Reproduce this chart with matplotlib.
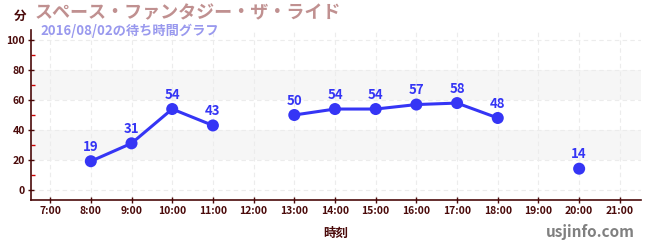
import numpy as np
from matplotlib import pyplot as plt

plt.rcParams['font.family'] = ['Noto Sans CJK JP', 'DejaVu Sans']

# wait times (minutes) per hour, None = no data
hours = [8, 9, 10, 11, 12, 13, 14, 15, 16, 17, 18, 19, 20]
waits = [19, 31, 54, 43, None, 50, 54, 54, 57, 58, 48, None, 14]
tick_hours = list(range(7, 22))
tick_labels = ["%d:00" % h for h in tick_hours]

title = "スペース・ファンタジー・ザ・ライド"
subtitle = "2016/08/02の待ち時間グラフ"

dark = "#4a0a0a"
blue = "#3535f5"

fig = plt.figure(figsize=(6.5, 2.5), dpi=100)
ax = fig.add_axes([31/650, 50/250, 610/650, 170/250])

x = np.array(hours, dtype=float)
y = np.array([np.nan if v is None else v for v in waits], dtype=float)

# shaded bands
for lo, hi in [(20, 40), (60, 80)]:
    ax.axhspan(lo, hi, color="#f6f6f6", zorder=0, lw=0)

ax.plot(x, y, color=blue, lw=2.2, zorder=3)
ax.scatter(x, y, s=75, color=blue, zorder=4, edgecolors="none")
for xi, yi in zip(x, y):
    if not np.isnan(yi):
        ax.text(xi, yi + 5, "%d" % yi, ha="center", va="bottom", color=blue,
                fontsize=9.5, fontweight="bold", zorder=5)

ax.set_xlim(6.53, 21.52)
ax.set_ylim(-7, 107)
ax.set_xticks(tick_hours)
ax.set_xticklabels(tick_labels)
ax.set_yticks([0, 20, 40, 60, 80, 100])
ax.set_yticks([10, 30, 50, 70, 90], minor=True)

ax.grid(True, which="major", color="#ececec", ls=(0, (4, 3)), lw=0.8)
ax.set_axisbelow(True)

for s in ["top", "right"]:
    ax.spines[s].set_visible(False)
for s in ["left", "bottom"]:
    ax.spines[s].set_color(dark)
    ax.spines[s].set_linewidth(1.2)

ax.tick_params(axis="both", which="major", colors=dark, length=5, width=1,
               direction="inout", labelsize=7.5, pad=2)
ax.tick_params(axis="y", which="minor", colors="#cc0000", length=3, width=1,
               direction="in")
for lab in ax.get_xticklabels() + ax.get_yticklabels():
    lab.set_fontweight("bold")

ax.set_xlabel("時刻", color=dark, fontsize=9, fontweight="bold", labelpad=8)

fig.text(14/650, 1 - 16/250, "分", color=dark, fontsize=9, fontweight="bold",
         ha="left", va="center")
fig.text(35/650, 1 - 13/250, title, color="#c09090", fontsize=13,
         fontweight="bold", ha="left", va="center")
fig.text(40/650, 1 - 31/250, subtitle, color="#9999ee", fontsize=9.5,
         fontweight="bold", ha="left", va="center")
fig.text(635/650, 1 - 232/250, "usjinfo.com", color="#808080", fontsize=11,
         fontweight="bold", ha="right", va="center")

plt.savefig("out.png", dpi=100)
